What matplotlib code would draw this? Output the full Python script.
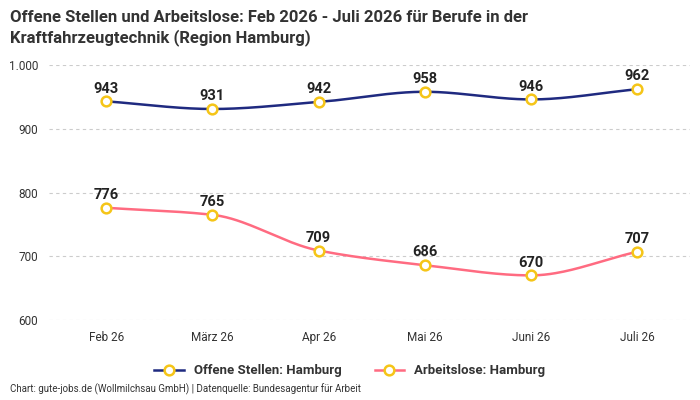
import numpy as np
import matplotlib
matplotlib.use("Agg")
import matplotlib.pyplot as plt
from matplotlib.ticker import FuncFormatter

plt.rcParams['font.family'] = ['Roboto', 'DejaVu Sans']

months = ["Feb 26", "März 26", "Apr 26", "Mai 26", "Juni 26", "Juli 26"]
offene = [943, 931, 942, 958, 946, 962]
arbeitslose = [776, 765, 709, 686, 670, 707]

def smooth(y, n=40):
    # monotone cubic (Fritsch-Carlson) rendering of the line
    y = np.asarray(y, float); x = np.arange(len(y), dtype=float)
    d = np.diff(y)
    m = np.zeros_like(y)
    m[0], m[-1] = d[0], d[-1]
    for i in range(1, len(y)-1):
        m[i] = 0 if d[i-1]*d[i] <= 0 else 2/(1/d[i-1]+1/d[i])
    xs, ys = [], []
    for i in range(len(y)-1):
        t = np.linspace(0, 1, n)
        h00 = 2*t**3-3*t**2+1; h10 = t**3-2*t**2+t; h01 = -2*t**3+3*t**2; h11 = t**3-t**2
        xs.append(x[i]+t); ys.append(h00*y[i]+h10*m[i]+h01*y[i+1]+h11*m[i+1])
    return np.concatenate(xs), np.concatenate(ys)

fig = plt.figure(figsize=(7, 4), dpi=100)
ax = fig.add_axes([0.07, 0.2, 0.916, 0.6375])
x = np.arange(len(months))
for data, col, lab in [(offene, "#1f2a80", "Offene Stellen: Hamburg"),
                       (arbeitslose, "#ff6b81", "Arbeitslose: Hamburg")]:
    sx, sy = smooth(data)
    ax.plot(sx, sy, color=col, lw=1.8, zorder=2)
    ax.plot(x, data, ls='none', marker='o', ms=7, mfc='white', mec='#f5c518', mew=1.8, zorder=3)
    ax.plot([], [], color=col, lw=1.8, marker='o', ms=7, mfc='white', mec='#f5c518', mew=1.8, label=lab)
    for xi, v in zip(x, data):
        ax.text(xi, v + 9, str(v), ha='center', va='bottom', fontsize=10.5, fontweight='bold', color='#222222')

ax.set_ylim(600, 1000)
ax.set_xlim(-0.54, 5.5)
ax.set_yticks([600, 700, 800, 900, 1000])
ax.yaxis.set_major_formatter(FuncFormatter(lambda v, p: f"{int(v):,}".replace(",", ".")))
ax.set_xticks(x)
ax.set_xticklabels(months)
ax.tick_params(length=0, labelsize=8.5, colors='#333333', pad=8)
ax.grid(axis='y', ls=(0, (3, 3)), color='#cccccc', lw=0.8)
for s in ax.spines.values():
    s.set_visible(False)

fig.text(0.014, 0.975, "Offene Stellen und Arbeitslose: Feb 2026 - Juli 2026 für Berufe in der\nKraftfahrzeugtechnik (Region Hamburg)",
         ha='left', va='top', fontsize=12, fontweight='bold', color='#333333', linespacing=1.3)
leg = fig.legend(loc='center', bbox_to_anchor=(0.5, 0.073), ncol=2, frameon=False,
                 fontsize=9.5, handlelength=2.2, columnspacing=2.5)
for t in leg.get_texts():
    t.set_fontweight('bold'); t.set_color('#333333')
fig.text(0.014, 0.018, "Chart: gute-jobs.de (Wollmilchsau GmbH) | Datenquelle: Bundesagentur für Arbeit",
         fontsize=7, color='#333333')
fig.savefig("out.png", dpi=100)
